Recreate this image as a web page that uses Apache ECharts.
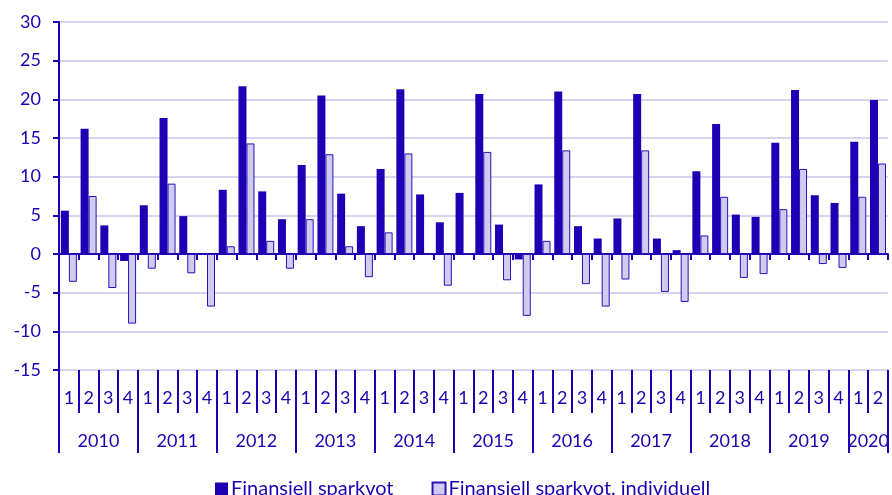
<!DOCTYPE html>
<html>
<head>
<meta charset="utf-8">
<script src="https://cdn.jsdelivr.net/npm/echarts@6/dist/echarts.min.js"></script>
<style>
    html, body { margin: 0; padding: 0; background: #fff; }
    #chart { width: 892px; height: 495px; }
</style>
</head>
<body>
<div id="chart"></div>
<script>
    // kvartal 2010K1 - 2020K2
    var years = ['2010', '2011', '2012', '2013', '2014', '2015', '2016', '2017', '2018', '2019', '2020'];
    var quarters = [];
    for (var y = 0; y < years.length; y++) {
        var nq = years[y] === '2020' ? 2 : 4;
        for (var q = 1; q <= nq; q++) quarters.push(String(q));
    }

    var sparkvot = [
        5.6, 16.2, 3.7, -0.9,
        6.3, 17.6, 4.9, 0.1,
        8.3, 21.7, 8.1, 4.5,
        11.5, 20.5, 7.8, 3.6,
        11.0, 21.3, 7.7, 4.1,
        7.9, 20.7, 3.8, -0.7,
        9.0, 21.0, 3.6, 2.0,
        4.6, 20.7, 2.0, 0.5,
        10.7, 16.8, 5.1, 4.8,
        14.4, 21.2, 7.6, 6.6,
        14.5, 19.9
    ];
    var sparkvotIndivid = [
        -3.6, 7.5, -4.4, -9.0,
        -1.9, 9.1, -2.5, -6.8,
        1.0, 14.3, 1.7, -1.9,
        4.5, 12.9, 1.0, -3.0,
        2.8, 13.0, -0.1, -4.1,
        0.0, 13.2, -3.4, -8.0,
        1.7, 13.4, -3.9, -6.8,
        -3.3, 13.4, -4.9, -6.2,
        2.4, 7.4, -3.1, -2.6,
        5.8, 11.0, -1.3, -1.8,
        7.4, 11.7
    ];

    // brytpunkter for arsaxeln (43 gransvarden, etikett mitt i varje ar)
    var yearSlots = [];
    var yearLabelAt = {};
    var yearTickAt = {};
    var pos = 0;
    for (var i = 0; i < years.length; i++) {
        var n = years[i] === '2020' ? 2 : 4;
        yearTickAt[pos] = true;
        yearLabelAt[pos + n / 2] = years[i];
        pos += n;
    }
    yearTickAt[pos] = true;
    for (var k = 0; k <= pos; k++) yearSlots.push(yearLabelAt[k] || '');

    var blue = '#1e00b4';
    var font = 'Lato';

    var chart = echarts.init(document.getElementById('chart'));
    chart.setOption({
        animation: false,
        textStyle: { fontFamily: font, color: blue },
        grid: { left: 59, right: 4, top: 22, bottom: 125 },
        legend: {
            bottom: -9,
            left: 210,
            itemWidth: 13,
            itemHeight: 13,
            itemGap: 38,
            icon: 'rect',
            textStyle: { fontFamily: font, fontSize: 20, color: blue, padding: [0, 0, 0, -2] },
            data: ['Finansiell sparkvot', 'Finansiell sparkvot, individuell']
        },
        xAxis: [
            {
                // axeln vid noll
                type: 'category',
                data: quarters,
                axisLine: { onZero: true, lineStyle: { color: blue, width: 2 } },
                axisTick: { show: true, interval: 0, length: 6, lineStyle: { color: blue, width: 2 } },
                axisLabel: { show: false },
                splitLine: { show: false }
            },
            {
                // kvartal
                type: 'category',
                data: quarters,
                position: 'bottom',
                axisLine: { onZero: false, show: false },
                axisTick: { show: true, interval: 0, length: 43, lineStyle: { color: blue, width: 2 } },
                axisLabel: { interval: 0, margin: 19, fontSize: 18, color: blue, fontFamily: font },
                splitLine: { show: false }
            },
            {
                // ar
                type: 'category',
                data: yearSlots,
                boundaryGap: false,
                position: 'bottom',
                axisLine: { onZero: false, show: false },
                axisTick: {
                    show: true,
                    length: 83,
                    interval: function (idx) { return !!yearTickAt[idx]; },
                    lineStyle: { color: blue, width: 2 }
                },
                axisLabel: {
                    interval: function (idx) { return !!yearLabelAt[idx]; },
                    margin: 62,
                    fontSize: 18,
                    color: blue,
                    fontFamily: font
                },
                splitLine: { show: false }
            }
        ],
        yAxis: {
            type: 'value',
            min: -15,
            max: 30,
            interval: 5,
            axisLine: { show: true, lineStyle: { color: blue, width: 2 } },
            axisTick: { show: true, length: 6, lineStyle: { color: blue, width: 2 } },
            axisLabel: { margin: 18, fontSize: 18, color: blue, fontFamily: font },
            splitLine: { lineStyle: { color: '#d6d4f0', width: 2 } }
        },
        series: [
            {
                name: 'Finansiell sparkvot',
                type: 'bar',
                xAxisIndex: 0,
                data: sparkvot,
                barWidth: 8,
                barGap: '0%',
                itemStyle: { color: blue }
            },
            {
                name: 'Finansiell sparkvot, individuell',
                type: 'bar',
                xAxisIndex: 0,
                data: sparkvotIndivid,
                barWidth: 8,
                barGap: '0%',
                itemStyle: { color: '#d0ccf0', borderColor: '#2a12b8', borderWidth: 1 }
            }
        ]
    });
</script>
</body>
</html>
